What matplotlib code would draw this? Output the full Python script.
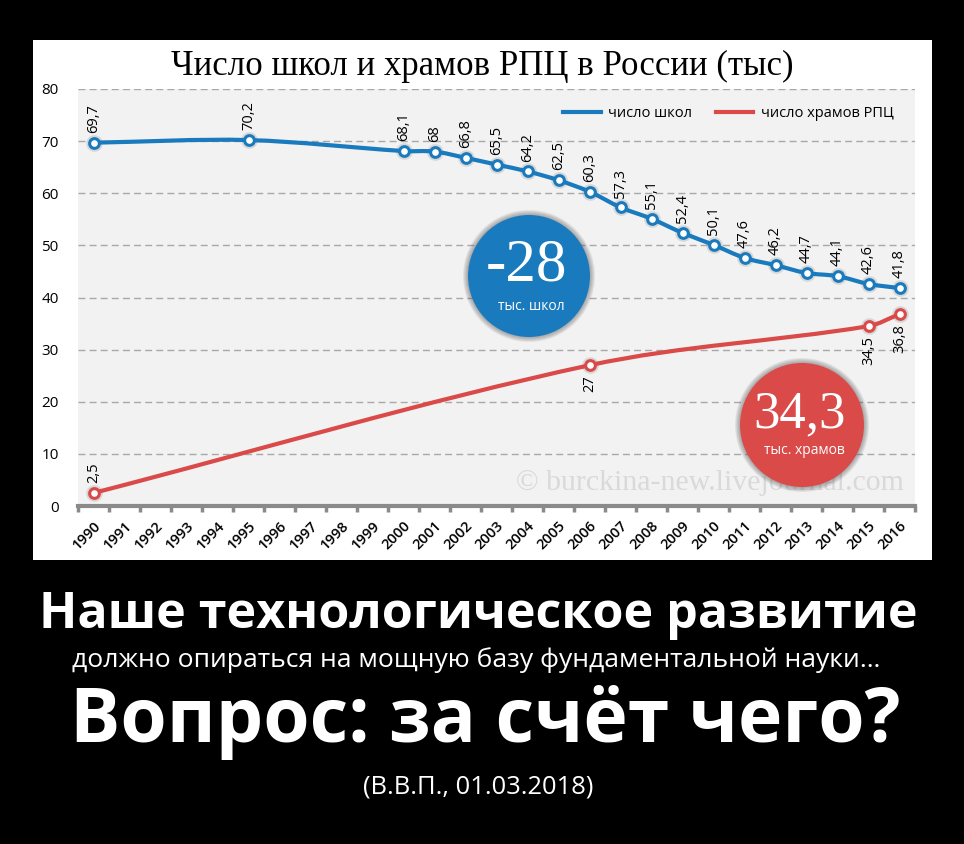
import numpy as np
import matplotlib.pyplot as plt
from matplotlib.path import Path
from matplotlib.patches import PathPatch, Circle, Rectangle
from matplotlib.lines import Line2D

W, H = 964, 844

years = list(range(1990, 2017))
school_years = [1990, 1995, 2000, 2001, 2002, 2003, 2004, 2005, 2006, 2007,
                2008, 2009, 2010, 2011, 2012, 2013, 2014, 2015, 2016]
school_vals = [69.7, 70.2, 68.1, 68, 66.8, 65.5, 64.2, 62.5, 60.3, 57.3,
               55.1, 52.4, 50.1, 47.6, 46.2, 44.7, 44.1, 42.6, 41.8]
church_years = [1990, 2006, 2015, 2016]
church_vals = [2.5, 27, 34.5, 36.8]

title = "Число школ и храмов РПЦ в России (тыс)"
legend_labels = ["число школ", "число храмов РПЦ"]
blue = "#1a7abe"
red = "#d94a48"

sans = ["Open Sans", "DejaVu Sans"]
serif = ["Liberation Serif", "DejaVu Serif"]
plt.rcParams['font.family'] = sans


def px(x, y):
    # pixel position (from top-left) -> inches for dpi_scale_trans
    return x / 100, (H - y) / 100


def smooth_path(x, y):
    x = np.asarray(x, float)
    y = np.asarray(y, float)
    n = len(x)
    m = np.empty(n)
    m[1:-1] = (y[2:] - y[:-2]) / (x[2:] - x[:-2])
    m[0] = (y[1] - y[0]) / (x[1] - x[0])
    m[-1] = (y[-1] - y[-2]) / (x[-1] - x[-2])
    verts = [(x[0], y[0])]
    codes = [Path.MOVETO]
    for i in range(n - 1):
        h = (x[i + 1] - x[i]) / 3
        verts += [(x[i] + h, y[i] + m[i] * h),
                  (x[i + 1] - h, y[i + 1] - m[i + 1] * h),
                  (x[i + 1], y[i + 1])]
        codes += [Path.CURVE4] * 3
    return Path(verts, codes)


def fmt(v):
    return ("%g" % v).replace(".", ",")


fig = plt.figure(figsize=(W / 100, H / 100), dpi=100, facecolor="black")
tr = fig.dpi_scale_trans

# white chart panel
fig.patches.append(Rectangle(px(33, 560), 899 / 100, 520 / 100, transform=tr,
                             facecolor="white", edgecolor="none", zorder=-5))

ax = fig.add_axes([78 / W, 1 - 506 / H, 837 / W, 417 / H])
ax.set_facecolor("#f2f2f2")
ax.set_xlim(-0.5, 26.5)
ax.set_ylim(0, 80)
for s in ["left", "right", "top"]:
    ax.spines[s].set_visible(False)
ax.spines["bottom"].set_color("#8a8a8a")
ax.spines["bottom"].set_linewidth(3)
ax.spines["bottom"].set_zorder(6)

ax.set_yticks(range(0, 81, 10))
ax.tick_params(axis="y", length=0, pad=14, labelsize=11)
ax.yaxis.grid(True, linestyle=(0, (5, 3)), color="#a8a8a8", lw=1.0)
ax.set_axisbelow(True)

ax.set_xticks(range(len(years)))
ax.set_xticklabels([str(y) for y in years], rotation=45, ha="right",
                   rotation_mode="anchor", fontsize=10.5, fontweight="semibold")
ax.tick_params(axis="x", which="major", length=0, pad=9)
ax.set_xticks(np.arange(-0.5, len(years), 1), minor=True)
ax.tick_params(axis="x", which="minor", length=4, width=2.5, color="#8a8a8a")

# watermark
ax.text(0.755, 0.055, "© burckina-new.livejournal.com", transform=ax.transAxes,
        ha="center", va="center", fontsize=21.5, family=serif, color="#d9d9d9",
        zorder=1)

xs = np.array(school_years) - 1990
xc = np.array(church_years) - 1990

for xv, yv, col in [(xs, school_vals, blue), (xc, church_vals, red)]:
    ax.add_patch(PathPatch(smooth_path(xv, yv), transform=ax.transData,
                           fill=False, edgecolor=col, lw=3.0,
                           capstyle="round", zorder=4))
    ax.plot(xv, yv, "o", ms=12, color="#888888", alpha=0.25, mec="none", zorder=3)
    ax.plot(xv, yv, "o", ms=7, mfc="white", mec=col, mew=2.2, zorder=5)

for xv, yv in zip(xs, school_vals):
    ax.annotate(fmt(yv), (xv, yv), xytext=(0, 7), textcoords="offset points",
                rotation=90, ha="center", va="bottom", fontsize=10.5, zorder=6)
for i, (xv, yv) in enumerate(zip(xc, church_vals)):
    up = i == 0
    ax.annotate(fmt(yv), (xv, yv), xytext=(0, 7 if up else -7),
                textcoords="offset points", rotation=90, ha="center",
                va="bottom" if up else "top", fontsize=10.5, zorder=6)

handles = [Line2D([], [], color=blue, lw=3), Line2D([], [], color=red, lw=3)]
ax.legend(handles, legend_labels, loc="center right", bbox_to_anchor=(0.99, 0.942),
          ncol=2, frameon=False, fontsize=10.5, handlelength=2.6,
          columnspacing=1.6, handletextpad=0.5)

# callout circles
for (cx, cy, r, col, big, bsize, small, by, sy) in [
        (529, 276, 61, blue, "-28", 44, "тыс. школ", 266, 306),
        (802, 425, 62, red, "34,3", 38, "тыс. храмов", 414, 450)]:
    for k in range(5, 0, -1):
        fig.patches.append(Circle(px(cx, cy), (r + k) / 100, transform=tr,
                                  facecolor="#505050", edgecolor="none",
                                  alpha=0.10, zorder=7))
    fig.patches.append(Circle(px(cx, cy), r / 100, transform=tr,
                              facecolor=col, edgecolor="none", zorder=8))
    fig.text(*px(cx - 3, by), big, transform=tr, ha="center", va="center",
             fontsize=bsize, family=serif, color="white", zorder=9)
    fig.text(*px(cx + 2, sy), small, transform=tr, ha="center", va="center",
             fontsize=10, color="white", zorder=9)

renderer = fig.canvas.get_renderer()


def fit(t, width):
    w = t.get_window_extent(renderer).width
    t.set_fontsize(t.get_fontsize() * width / w)


t = fig.text(*px(482, 66), title, transform=tr, ha="center", va="center",
             fontsize=22, family=serif, color="black")
fit(t, 620)

t = fig.text(*px(478, 615), "Наше технологическое развитие", transform=tr,
             ha="center", va="center", fontsize=36, fontweight="bold", color="white")
fit(t, 881)
t = fig.text(*px(476, 660), "должно опираться на мощную базу фундаментальной науки…",
             transform=tr, ha="center", va="center", fontsize=16, color="white")
fit(t, 808)
t = fig.text(*px(485, 722), "Вопрос: за счёт чего?", transform=tr,
             ha="center", va="center", fontsize=55, fontweight="bold", color="white")
fit(t, 830)
t = fig.text(*px(478, 787), "(В.В.П., 01.03.2018)", transform=tr,
             ha="center", va="center", fontsize=18, color="white")
fit(t, 231)

fig.savefig("out.png", dpi=100, facecolor="black")
